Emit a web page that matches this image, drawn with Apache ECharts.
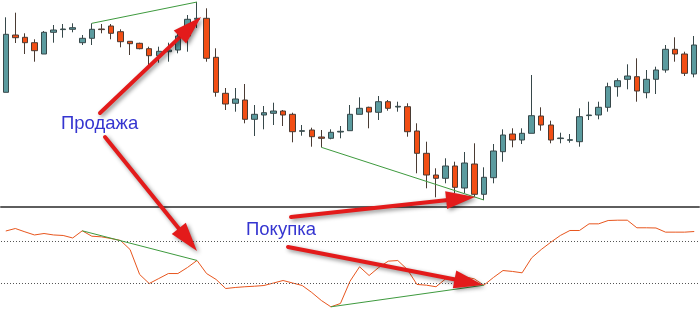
<!DOCTYPE html>
<html>
<head>
<meta charset="utf-8">
<script src="https://cdn.jsdelivr.net/npm/echarts@6/dist/echarts.min.js"></script>
<style>
    html, body { margin: 0; padding: 0; background: #fff; }
    #chart { width: 700px; height: 314px; }
</style>
</head>
<body>
<div id="chart"></div>
<script>
// свечи: [open, close, low, high]
const candles = [
    [117.7, 175.7, 117.7, 192.7], [175, 172.3, 167, 197.3], [172.7, 167.3, 156, 176.7], [167.3, 159.3, 148.3, 170.7],
    [156, 177.7, 156, 179], [177.7, 180, 167.3, 185], [180.4, 181, 172.3, 186], [180.7, 182.3, 177.7, 186.7],
    [167.3, 171.7, 165, 175], [171.7, 180.7, 165, 186.7], [181, 180.4, 176.7, 186], [184, 176.7, 170.7, 186],
    [178.3, 168.3, 162.7, 180.7], [168.7, 166.3, 155, 168.7], [166.7, 161.3, 160.7, 167.3], [161.3, 154.3, 145, 163.3],
    [154.3, 158.7, 147.3, 163.3], [158.3, 160, 148.3, 167.3], [160, 174, 156.7, 178.3], [174, 190.7, 158.3, 195],
    [190.7, 191.7, 182, 208], [191.7, 151.7, 148.3, 201.7], [152.7, 117.7, 113.3, 161.7], [116.7, 106, 100, 122],
    [106.7, 111, 98.3, 122], [110, 90.7, 86.7, 126], [90.7, 95.7, 74, 105], [95, 97.3, 80.7, 104],
    [96.7, 99, 85, 107.3], [99, 95, 84, 100], [95.7, 78.3, 67.7, 97.3], [78.7, 79.3, 74.3, 85],
    [80, 73.3, 63.3, 82.3], [73, 71.7, 62.7, 80], [71.7, 77.7, 70.7, 80.7], [78, 78.7, 71.7, 84],
    [79.3, 95.7, 79.3, 105], [95.7, 101.7, 95.7, 112.7], [102.7, 98, 81.7, 103.3], [97.7, 108.3, 90, 114],
    [108.3, 101.7, 99.3, 110], [103, 103.7, 98.3, 108.3], [103.3, 78.3, 73.3, 106.7], [79, 56.7, 36.7, 86.7],
    [56.7, 35, 21.7, 68.3], [35, 31.7, 12.7, 41.7], [31.7, 44, 26.7, 51.7], [44, 22.7, 16.7, 48.3],
    [22, 47, 17, 58], [46, 15.7, 13.3, 66.7], [15.7, 32.7, 10, 42.7], [32.3, 59, 26.7, 66],
    [58.3, 75, 48.3, 80.7], [76, 70, 62.7, 81.7], [70, 76.7, 66, 81.7], [76.7, 94.3, 76.7, 135],
    [94, 85, 79.3, 102.7], [85, 70, 66.7, 89.3], [71.4, 72, 66.7, 77.3], [69.7, 70.3, 67.3, 76],
    [68.3, 93.3, 63.3, 101.7], [94.4, 95, 90, 108.3], [95, 102.7, 90.7, 108.3], [102.7, 123.3, 98.3, 127.3],
    [123.3, 129.3, 113.3, 131.7], [130.7, 134, 120.7, 145.7], [133.3, 119, 108.3, 151.7], [117.3, 130.7, 111.7, 140],
    [130.7, 140, 116, 143.3], [140, 160.7, 137.3, 165], [160.7, 156, 148.3, 172.7], [156, 136.7, 134, 158.3],
    [136, 165, 132.7, 174]
];
// осциллятор
const rsi = [
    79.8, 82.2, 79, 76, 77.4, 76, 75.5, 73.1, 80, 74.8, 74.2, 72.6, 70.7, 62, 38, 29.3,
    34.1, 38.9, 38.9, 44.7, 51.5, 38.9, 33.2, 24.5, 25.5, 26.2, 26.7, 27.4, 29.8, 32.2, 29.8, 27.4,
    20.7, 13, 6.9, 10.1, 31.5, 45.4, 37, 44.7, 50.8, 51.4, 42.8, 28.4, 27.7, 26.2, 33.8, 32.5,
    35.8, 33.8, 27.7, 35.1, 41.8, 40.9, 39.6, 54, 62, 69, 75.5, 80.3, 80.3, 86.7, 86.7, 89.9,
    90.2, 90.2, 82.9, 82.9, 82.7, 78.7, 78.7, 78.7, 79.3
];
const rsiLevels = [70, 30];
const bars = candles.map((c, i) => String(i + 1));
// дивергенции: [индекс, значение]
const priceDivergence = [[[9, 186.7], [20, 208]], [[33, 62.7], [50, 10]]];
const rsiDivergence = [[[8, 80], [20, 51.5]], [[34, 6.9], [50, 27.7]]];
// подписи и стрелки
const labels = [
    {text: 'Продажа', x: 61, y: 124},
    {text: 'Покупка', x: 246, y: 230}
];
const arrows = [
    [100, 113, 201, 17],
    [105, 137, 197, 251],
    [291, 217, 475, 197],
    [288, 247, 483, 285]
];

const RED = '#e31b1b';
const shadow = {shadowBlur: 4, shadowOffsetX: 2, shadowOffsetY: 2, shadowColor: 'rgba(0,0,0,0.45)'};

function makeArrow(a) {
    const [x1, y1, x2, y2] = a;
    const dx = x2 - x1, dy = y2 - y1, len = Math.hypot(dx, dy);
    const ux = dx / len, uy = dy / len;
    const hl = 29, hw = 9;
    const bx = x2 - ux * hl, by = y2 - uy * hl;
    return [
        {type: 'line', z: 100, shape: {x1: x1, y1: y1, x2: bx + ux * 2, y2: by + uy * 2},
            style: Object.assign({stroke: RED, lineWidth: 4, lineCap: 'round'}, shadow)},
        {type: 'polygon', z: 100, shape: {points: [[x2, y2], [bx - uy * hw, by + ux * hw], [bx + uy * hw, by - ux * hw]]},
            style: Object.assign({fill: RED}, shadow)}
    ];
}

function divLines(list) {
    return list.map(seg => seg.map(p => ({coord: [bars[p[0]], p[1]]})));
}

const graphic = [];
arrows.forEach(a => graphic.push(...makeArrow(a)));
labels.forEach(l => graphic.push({
    type: 'text', z: 101, x: l.x, y: l.y,
    style: {text: l.text, fill: '#3535d0', font: '18.5px "Liberation Sans", Arial, sans-serif', verticalAlign: 'middle', align: 'left'}
}));

const chart = echarts.init(document.getElementById('chart'));
chart.setOption({
    animation: false,
    backgroundColor: '#fff',
    grid: [
        {left: 1, right: 1, top: 0, height: 207},
        {left: 1, right: 1, top: 210, height: 104}
    ],
    xAxis: [
        {type: 'category', data: bars, gridIndex: 0, boundaryGap: true,
            axisLine: {show: true, lineStyle: {color: '#5e5e5e', width: 2}},
            axisTick: {show: false}, axisLabel: {show: false}, splitLine: {show: false}},
        {type: 'category', data: bars, gridIndex: 1, boundaryGap: true, show: false}
    ],
    yAxis: [
        {type: 'value', gridIndex: 0, min: 3, max: 210, show: false, splitLine: {show: false}},
        {type: 'value', gridIndex: 1, min: 0, max: 100, show: false, splitLine: {show: false}}
    ],
    series: [
        {
            type: 'candlestick', xAxisIndex: 0, yAxisIndex: 0, data: candles, barWidth: 6,
            itemStyle: {color: '#5b9b9f', color0: '#f24e14', borderColor: '#37484a', borderColor0: '#4a3b33', borderWidth: 1},
            markLine: {
                silent: true, symbol: ['none', 'none'], label: {show: false},
                lineStyle: {color: '#3e9a3e', width: 1, type: 'solid'},
                data: divLines(priceDivergence)
            }
        },
        {
            type: 'line', xAxisIndex: 1, yAxisIndex: 1, data: rsi, symbol: 'none',
            lineStyle: {color: '#e8561e', width: 1},
            markLine: {
                silent: true, symbol: ['none', 'none'], label: {show: false},
                data: rsiLevels.map(v => ({yAxis: v, lineStyle: {color: '#555', width: 1, type: [1, 2]}}))
                    .concat(divLines(rsiDivergence).map(d => [
                        Object.assign({lineStyle: {color: '#3e9a3e', width: 1, type: 'solid'}}, d[0]), d[1]]))
            }
        }
    ],
    graphic: graphic
});
</script>
</body>
</html>
